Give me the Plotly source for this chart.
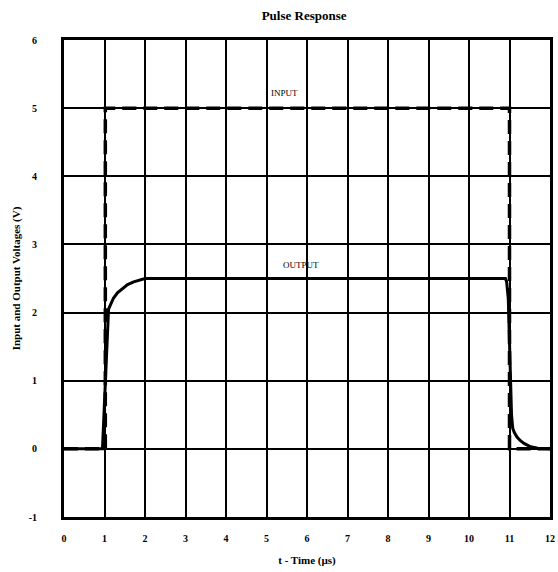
import plotly.graph_objects as go

# Input pulse (dashed)
input_t = [0, 1.02, 1.02, 11.0, 11.0, 12]
input_v = [0, 0, 5, 5, 0, 0]

# Output response (solid)
output_t = [0, 0.95, 1.10, 1.15, 1.22, 1.32, 1.45, 1.57, 1.72, 1.87, 2.0,
            10.90, 10.93, 10.97, 11.05, 11.08, 11.12, 11.19, 11.27, 11.36, 11.45, 11.52, 11.7, 12.0]
output_v = [0, 0, 2.05, 2.13, 2.21, 2.29, 2.36, 2.41, 2.45, 2.48, 2.5,
            2.5, 2.45, 2.2, 0.5, 0.3, 0.24, 0.17, 0.12, 0.08, 0.05, 0.03, 0.01, 0.0]

x_ticks = list(range(0, 13))
y_ticks = list(range(-1, 7))

serif = "Liberation Serif, Times New Roman, serif"

fig = go.Figure()
fig.add_trace(go.Scatter(x=output_t, y=output_v, mode="lines",
                         line=dict(color="black", width=3),
                         showlegend=False, hoverinfo="skip"))
fig.add_trace(go.Scatter(x=input_t, y=input_v, mode="lines",
                         line=dict(color="black", width=3.5, dash="14px,7px"),
                         showlegend=False, hoverinfo="skip"))

fig.add_annotation(x=5.45, y=5.22, text="INPUT", showarrow=False,
                   font=dict(family=serif, size=9, color="black"))
fig.add_annotation(x=5.85, y=2.7, text="OUTPUT", showarrow=False,
                   font=dict(family=serif, size=9, color="black"))

fig.update_layout(
    width=558, height=572,
    margin=dict(l=64, r=8, t=40, b=55, autoexpand=False),
    paper_bgcolor="white", plot_bgcolor="white",
    title=dict(text="<b>Pulse Response</b>", x=0.545, xanchor="center",
               yref="container", y=0.973, yanchor="middle",
               font=dict(family=serif, size=13, color="black")),
    xaxis=dict(range=[0, 12], tickvals=x_ticks, ticktext=[f"<b>{v}</b>" for v in x_ticks],
               showgrid=True, gridcolor="black", gridwidth=1.5, zeroline=False,
               showline=True, linecolor="black", linewidth=3, mirror=True,
               ticks="", ticklabelstandoff=10, ticklabeloverflow="allow",
               tickfont=dict(family=serif, size=10, color="black"),
               title=dict(text="<b>t - Time (µs)</b>", standoff=14,
                          font=dict(family=serif, size=11, color="black"))),
    yaxis=dict(range=[-1, 6], tickvals=y_ticks, ticktext=[f"<b>{v}</b>" for v in y_ticks],
               showgrid=True, gridcolor="black", gridwidth=1.5, zeroline=False,
               showline=True, linecolor="black", linewidth=3, mirror=True,
               ticks="", ticklabelstandoff=22,
               tickfont=dict(family=serif, size=10, color="black"),
               title=dict(text="<b>Input and Output Voltages (V)</b>", standoff=6,
                          font=dict(family=serif, size=11, color="black"))),
)

fig.write_html("out.html", config={"displayModeBar": False},
               post_script="document.body.style.margin='0';document.body.style.overflow='hidden';")
